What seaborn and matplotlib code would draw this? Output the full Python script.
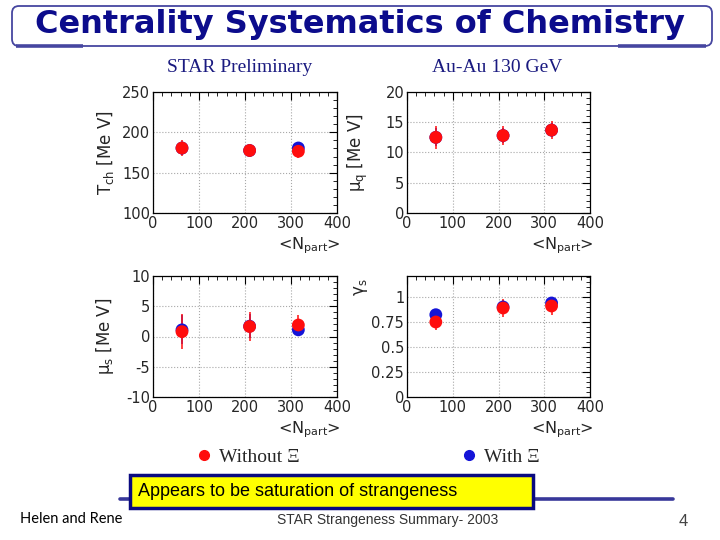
import numpy as np
import pandas as pd
import matplotlib
matplotlib.use("Agg")
import matplotlib.pyplot as plt
import seaborn as sns
from matplotlib.patches import FancyBboxPatch, Rectangle
from matplotlib.lines import Line2D
from matplotlib.ticker import MultipleLocator

# --- data ---
npart = [63, 210, 316]
sets = ["With Xi", "Without Xi"]

tch_without = [180.5, 177.5, 176.5]
tch_without_err = [10, 8, 8]
tch_with = [180.5, 177.5, 180.6]
tch_with_err = [8, 6, 6]

muq_without = [12.5, 12.8, 13.7]
muq_without_err = [1.9, 1.6, 1.5]
muq_with = [12.5, 12.8, 13.7]
muq_with_err = [1.5, 1.3, 1.2]

mus_without = [0.8, 1.65, 1.9]
mus_without_err = [2.85, 2.4, 1.6]
mus_with = [1.1, 1.7, 1.1]
mus_with_err = [2.4, 2.0, 0.8]

gams_without = [0.75, 0.89, 0.91]
gams_without_err = [0.075, 0.09, 0.09]
gams_with = [0.823, 0.90, 0.94]
gams_with_err = [0.05, 0.07, 0.055]

colors = {"With Xi": "#1414d8", "Without Xi": "#ff0d0d"}

panels = [
    dict(name="tch", label="T$_{\\rm ch}$ [Me V]", vals=(tch_with, tch_without),
         errs=(tch_with_err, tch_without_err), ylim=(100, 250), major=50, minor=10),
    dict(name="muq", label="\u03bc$_{\\rm q}$ [Me V]", vals=(muq_with, muq_without),
         errs=(muq_with_err, muq_without_err), ylim=(0, 20), major=5, minor=1),
    dict(name="mus", label="\u03bc$_{\\rm s}$ [Me V]", vals=(mus_with, mus_without),
         errs=(mus_with_err, mus_without_err), ylim=(-10, 10), major=5, minor=1),
    dict(name="gams", label="\u03b3$_{\\rm s}$", vals=(gams_with, gams_without),
         errs=(gams_with_err, gams_without_err), ylim=(0, 1.21), major=0.25, minor=0.05),
]

# axes boxes in pixels: left, top, right, bottom
boxes = [(153, 92, 337, 213), (407, 92, 590, 213),
         (153, 276, 337, 397), (407, 276, 590, 397)]

W, H = 720, 540
sns.set_style("white")
plt.rcParams["font.family"] = ["DejaVu Sans"]
plt.rcParams["axes.unicode_minus"] = False

fig = plt.figure(figsize=(7.2, 5.4), dpi=100)

# decoration layer in pixel coordinates
deco = fig.add_axes([0, 0, 1, 1], zorder=-1)
deco.set_xlim(0, W)
deco.set_ylim(H, 0)
deco.axis("off")

deco.add_patch(FancyBboxPatch((12, 6), 700, 40, boxstyle="round,pad=0,rounding_size=7",
                              facecolor="none", edgecolor="#4646a0", lw=1.3))
deco.plot([16, 83], [46, 46], color="#4646a0", lw=2.6, solid_capstyle="butt")
deco.plot([618, 706], [46, 46], color="#4646a0", lw=2.6, solid_capstyle="butt")
deco.text(360, 25, "Centrality Systematics of Chemistry", ha="center", va="center",
          fontsize=23, fontweight="bold", color="#0c0c8c")

deco.text(240, 68, "STAR Preliminary", ha="center", va="center", fontsize=14,
          family="Liberation Serif", color="#1a1a80")
deco.text(497, 68, "Au-Au 130 GeV", ha="center", va="center", fontsize=14,
          family="Liberation Serif", color="#1a1a80")

deco.plot([120, 673], [499, 499], color="#38389a", lw=2.6)
deco.add_patch(Rectangle((130, 475), 403, 33, facecolor="#ffff00",
                         edgecolor="#0a0a80", lw=2.5, zorder=3))
deco.text(138, 491, "Appears to be saturation of strangeness", ha="left", va="center",
          fontsize=13, family="Liberation Sans", color="black", zorder=4)
deco.text(20, 519, "Helen and Rene", ha="left", va="center", fontsize=10.5,
          family="Lato", color="black")
deco.text(388, 520, "STAR Strangeness Summary- 2003", ha="center", va="center",
          fontsize=10, family="Liberation Sans", color="#333333")
deco.text(683, 521, "4", ha="center", va="center", fontsize=12,
          family="Liberation Sans", color="#444444")

for p, (l, t, r, b) in zip(panels, boxes):
    ax = fig.add_axes([l / W, 1 - b / H, (r - l) / W, (b - t) / H])
    df = pd.DataFrame({
        "npart": npart * 2,
        "value": list(p["vals"][0]) + list(p["vals"][1]),
        "err": list(p["errs"][0]) + list(p["errs"][1]),
        "set": [sets[0]] * 3 + [sets[1]] * 3,
    })
    for s in sets:
        sub = df[df["set"] == s]
        ax.errorbar(sub["npart"], sub["value"], yerr=sub["err"], fmt="none",
                    ecolor=colors[s], elinewidth=1.1, capsize=0, zorder=2)
    sns.scatterplot(data=df, x="npart", y="value", hue="set", palette=colors,
                    s=85, edgecolor="none", legend=False, ax=ax, zorder=3)

    ax.set_xlim(0, 400)
    ax.set_ylim(*p["ylim"])
    ax.xaxis.set_major_locator(MultipleLocator(100))
    ax.xaxis.set_minor_locator(MultipleLocator(20))
    ax.yaxis.set_major_locator(MultipleLocator(p["major"]))
    ax.yaxis.set_minor_locator(MultipleLocator(p["minor"]))
    if p["name"] == "gams":
        ax.set_yticks([0, 0.25, 0.5, 0.75, 1])
        ax.set_yticklabels(["0", "0.25", "0.5", "0.75", "1"])
    ax.grid(True, which="major", linestyle=":", color="#a8a8a8", lw=0.8)
    ax.tick_params(which="both", direction="in", top=True, right=True,
                   labelsize=10.5, pad=2, color="black")
    ax.tick_params(which="major", length=6, width=0.8)
    ax.tick_params(which="minor", length=3, width=0.6)
    for sp in ax.spines.values():
        sp.set_color("black")
        sp.set_linewidth(0.9)

    ax.set_ylabel(p["label"], fontsize=12)
    if p["name"] == "gams":
        ax.yaxis.set_label_coords(-0.2, 0.91)
    else:
        ax.yaxis.set_label_coords(-0.2, 0.5)
    ax.set_xlabel("<N$_{\\rm part}$>", fontsize=11.5, loc="right")
    ax.xaxis.set_label_coords(1.02, -0.27)
    ax.xaxis.label.set_va("center")

handles = [
    Line2D([], [], marker="o", ls="none", color=colors["Without Xi"], markersize=7,
           label="Without \u039e"),
    Line2D([], [], marker="o", ls="none", color=colors["With Xi"], markersize=7,
           label="With \u039e"),
]
fig.legend(handles=handles, loc="center", bbox_to_anchor=(367 / W, 1 - 457 / H),
           ncol=2, frameon=False, columnspacing=8.2, handlelength=1.0,
           handletextpad=0.3, prop={"family": "Liberation Serif", "size": 14})

fig.savefig("out.png", dpi=100)
